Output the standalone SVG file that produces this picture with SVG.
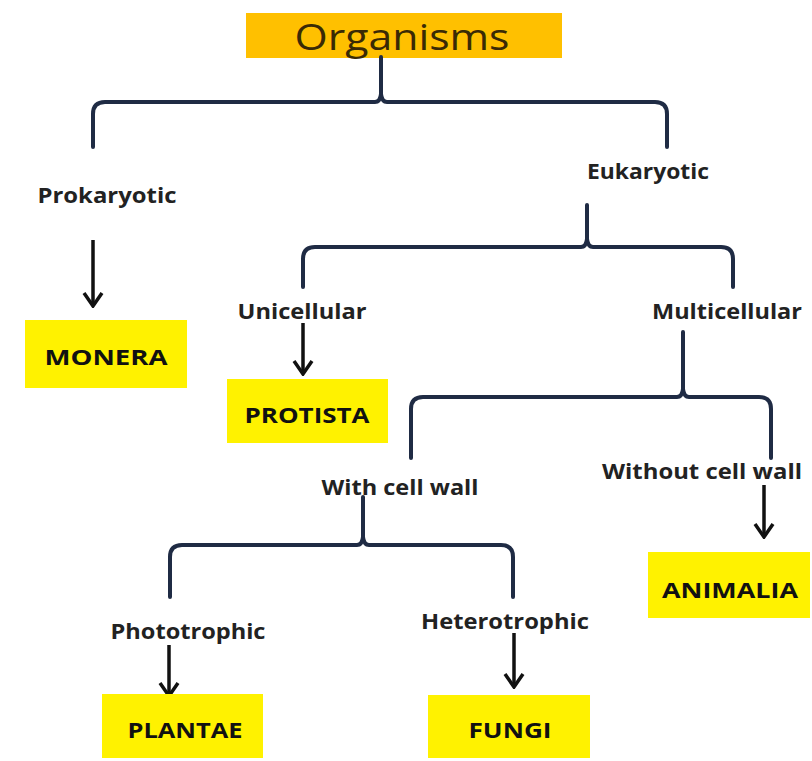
<svg xmlns="http://www.w3.org/2000/svg" width="812" height="761" viewBox="0 0 812 761">
<style>
.brace{fill:none;stroke:#1f2b44;stroke-width:4;stroke-linecap:round;stroke-linejoin:round}
.arrow{fill:none;stroke:#111;stroke-width:3.5}
.lbl{font-family:"Open Sans","Liberation Sans",sans-serif;font-weight:700;font-size:21px;fill:#222;text-anchor:middle}
.box{fill:#fff200}
.btxt{font-family:"Open Sans","Liberation Sans",sans-serif;font-weight:700;font-size:22px;fill:#111;text-anchor:middle}
</style>
<defs>
<marker id="ah" viewBox="-16 -12 18 24" markerWidth="18" markerHeight="24" refX="0" refY="0" orient="auto" markerUnits="userSpaceOnUse">
<path d="M-13,-9 L0,0 L-13,9" fill="none" stroke="#111" stroke-width="3.5" stroke-linejoin="miter"/>
</marker>
</defs>
<rect width="812" height="761" fill="#fff"/>

<g id="organisms">
<rect x="246" y="13" width="316" height="45" fill="#ffc000"/>
<text x="402" y="50" font-family="'Open Sans','Liberation Sans',sans-serif" font-size="36" fill="#3a2a05" text-anchor="middle" textLength="215" lengthAdjust="spacingAndGlyphs">Organisms</text>
</g>

<g id="connectors">
<path class="brace" d="M93,147 V114 Q93,102 105,102 H375 Q380,102 381,94 Q382,102 387,102 H655 Q667,102 667,114 V147 M381,94 V57"/>
<path class="brace" d="M303,287 V259 Q303,247 315,247 H581 Q586,247 587,239 Q588,247 593,247 H721 Q733,247 733,259 V287 M587,239 V205"/>
<path class="brace" d="M411,458 V409 Q411,397 423,397 H677 Q682,397 683,389 Q684,397 689,397 H759 Q771,397 771,409 V458 M683,389 V332"/>
<path class="brace" d="M170,597 V557 Q170,545 182,545 H357 Q362,545 363,537 Q364,545 369,545 H501 Q513,545 513,557 V597 M363,537 V497"/>
<line class="arrow" x1="93" y1="240" x2="93" y2="306" marker-end="url(#ah)"/>
<line class="arrow" x1="303" y1="323" x2="303" y2="374" marker-end="url(#ah)"/>
<line class="arrow" x1="764" y1="485" x2="764" y2="537" marker-end="url(#ah)"/>
<line class="arrow" x1="169" y1="645" x2="169" y2="696" marker-end="url(#ah)"/>
<line class="arrow" x1="514" y1="633" x2="514" y2="687" marker-end="url(#ah)"/>
</g>

<g id="prokaryotic"><text class="lbl" x="107" y="203" textLength="139" lengthAdjust="spacingAndGlyphs">Prokaryotic</text></g>
<g id="eukaryotic"><text class="lbl" x="648" y="179" textLength="122" lengthAdjust="spacingAndGlyphs">Eukaryotic</text></g>
<g id="unicellular"><text class="lbl" x="302" y="319" textLength="129" lengthAdjust="spacingAndGlyphs">Unicellular</text></g>
<g id="multicellular"><text class="lbl" x="727" y="319" textLength="150" lengthAdjust="spacingAndGlyphs">Multicellular</text></g>
<g id="withcellwall"><text class="lbl" x="400" y="495" textLength="157" lengthAdjust="spacingAndGlyphs">With cell wall</text></g>
<g id="withoutcellwall"><text class="lbl" x="702" y="479" textLength="200" lengthAdjust="spacingAndGlyphs">Without cell wall</text></g>
<g id="phototrophic"><text class="lbl" x="188" y="639" textLength="155" lengthAdjust="spacingAndGlyphs">Phototrophic</text></g>
<g id="heterotrophic"><text class="lbl" x="505" y="629" textLength="168" lengthAdjust="spacingAndGlyphs">Heterotrophic</text></g>

<g id="monera"><rect class="box" x="25" y="320" width="162" height="68"/><text class="btxt" x="106" y="365" textLength="123" lengthAdjust="spacingAndGlyphs">MONERA</text></g>
<g id="protista"><rect class="box" x="227" y="379" width="161" height="64"/><text class="btxt" x="307" y="423" textLength="125" lengthAdjust="spacingAndGlyphs">PROTISTA</text></g>
<g id="animalia"><rect class="box" x="648" y="552" width="162" height="66"/><text class="btxt" x="730" y="598" textLength="136" lengthAdjust="spacingAndGlyphs">ANIMALIA</text></g>
<g id="plantae"><rect class="box" x="102" y="694" width="161" height="64"/><text class="btxt" x="185" y="738" textLength="115" lengthAdjust="spacingAndGlyphs">PLANTAE</text></g>
<g id="fungi"><rect class="box" x="428" y="695" width="162" height="63"/><text class="btxt" x="510" y="738" textLength="83" lengthAdjust="spacingAndGlyphs">FUNGI</text></g>
</svg>
